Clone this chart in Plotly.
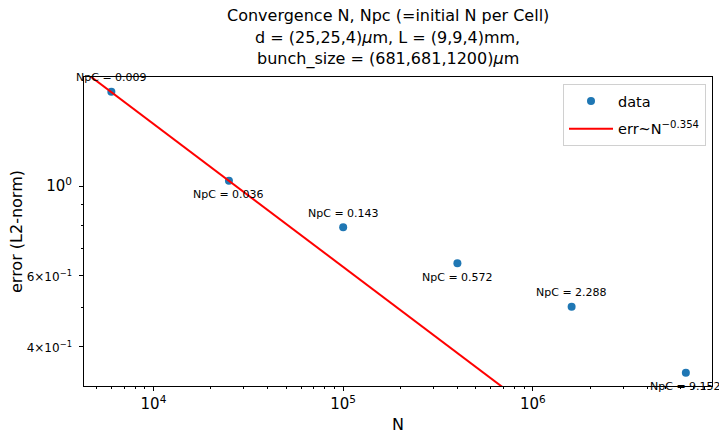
import numpy as np
import plotly.graph_objects as go

# ---- data ----
N = [6000, 25000, 100000, 400000, 1600000, 6400000]
error = [1.712, 1.031, 0.791, 0.644, 0.503, 0.3455]
npc_labels = ["0.009", "0.036", "0.143", "0.572", "2.288", "9.152"]

fit_exponent = -0.354
fit_log_coeff = 1.570
fit_N_span = [3000, 1e7]

x_major_vals = [1e4, 1e5, 1e6]
x_major_text = ["10<sup>4</sup>", "10<sup>5</sup>", "10<sup>6</sup>"]
x_minor_vals = [5000, 6000, 7000, 8000, 9000,
                2e4, 3e4, 4e4, 5e4, 6e4, 7e4, 8e4, 9e4,
                2e5, 3e5, 4e5, 5e5, 6e5, 7e5, 8e5, 9e5,
                2e6, 3e6, 4e6, 5e6, 6e6, 7e6, 8e6]
y_major_vals = [0.4, 0.6, 1.0]
y_major_text = ['<span style="font-size:12px">4×10<sup>−1</sup></span>',
                '<span style="font-size:12px">6×10<sup>−1</sup></span>',
                '10<sup>0</sup>']
y_minor_vals = [0.5, 0.7, 0.8, 0.9]

title_lines = ["Convergence N, Npc (=initial N per Cell)",
               "d = (25,25,4)<i>μ</i>m, L = (9,9,4)mm,",
               "bunch_size = (681,681,1200)<i>μ</i>m"]

FONT = "DejaVu Sans"
W, H = 719, 433
ML, MR, MT, MB = 84, 7, 77, 47

fit_N = np.array(fit_N_span, dtype=float)
fit_err = 10 ** fit_log_coeff * fit_N ** fit_exponent

fig = go.Figure()
fig.add_trace(go.Scatter(
    x=N, y=error, mode="markers", name="data", legendgroup="a",
    marker=dict(color="#1f77b4", size=8),
))
fig.add_trace(go.Scatter(
    x=fit_N, y=fit_err, mode="lines", name="err~N<sup>−0.354</sup>",
    legendgroup="b", line=dict(color="red", width=2),
))

annotations = []
for i, (n, e, lab) in enumerate(zip(N, error, npc_labels)):
    annotations.append(dict(
        x=np.log10(n), y=np.log10(e), xref="x", yref="y",
        text=f"NpC = {lab}", showarrow=False,
        yshift=14 if i % 2 == 0 else -14,
        font=dict(family=FONT, size=11, color="black"),
    ))

plot_w = W - ML - MR
title_cx = (387.7 - ML) / plot_w
for k, line in enumerate(title_lines):
    annotations.append(dict(
        x=title_cx, y=1, xref="paper", yref="paper",
        xanchor="center", yanchor="middle",
        yshift=(MT - 15) - 22 * k,
        text=line, showarrow=False,
        font=dict(family=FONT, size=16, color="black"),
    ))

# axis labels
annotations.append(dict(
    x=0.5, y=0, xref="paper", yref="paper", xanchor="center", yanchor="middle",
    yshift=-(424 - (H - MB)), text="N", showarrow=False,
    font=dict(family=FONT, size=16, color="black"),
))
annotations.append(dict(
    x=0, y=0.5, xref="paper", yref="paper", xanchor="center", yanchor="middle",
    xshift=16.5 - ML, text="error (L2-norm)", textangle=-90, showarrow=False,
    font=dict(family=FONT, size=16, color="black"),
))

fig.update_layout(
    width=W, height=H,
    margin=dict(l=ML, r=MR, t=MT, b=MB, pad=0),
    paper_bgcolor="white", plot_bgcolor="white",
    template="none",
    font=dict(family=FONT, color="black"),
    annotations=annotations,
    showlegend=True,
    legend=dict(
        x=(706 - ML) / plot_w, y=(H - MB - 84) / (H - MT - MB),
        xanchor="right", yanchor="top",
        bgcolor="white", bordercolor="#d0d0d0", borderwidth=1,
        font=dict(family=FONT, size=14.5, color="black"),
        traceorder="grouped", tracegroupgap=6, itemwidth=44,
    ),
)
fig.update_xaxes(
    type="log", range=[3.634, 6.944], automargin=False,
    showgrid=False, zeroline=False,
    showline=True, linecolor="black", linewidth=1, mirror=True,
    ticks="outside", ticklen=4, tickcolor="black",
    tickvals=x_major_vals, ticktext=x_major_text,
    tickfont=dict(family=FONT, size=15, color="black"),
    minor=dict(tickvals=x_minor_vals, ticks="outside", ticklen=2,
               tickcolor="black", showgrid=False),
)
fig.update_yaxes(
    type="log", range=[-0.4946, 0.270], automargin=False,
    showgrid=False, zeroline=False,
    showline=True, linecolor="black", linewidth=1, mirror=True,
    ticks="outside", ticklen=4, tickcolor="black",
    tickvals=y_major_vals, ticktext=y_major_text,
    tickfont=dict(family=FONT, size=15, color="black"),
    ticklabelstandoff=4,
    minor=dict(tickvals=y_minor_vals, ticks="outside", ticklen=2,
               tickcolor="black", showgrid=False),
)

fig.write_html("out.html")
